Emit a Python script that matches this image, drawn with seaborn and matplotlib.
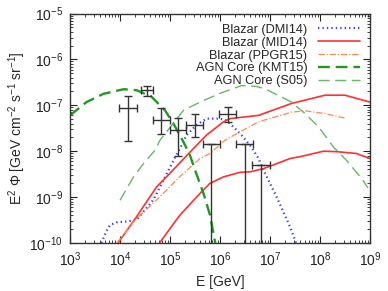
import numpy as np
import matplotlib
matplotlib.use("Agg")
import matplotlib.pyplot as plt
import seaborn as sns

# ---------- data (log10 E [GeV], log10 E^2 Phi) ----------
dmi14_logE = [3.63, 3.72, 3.80, 3.96, 4.06, 4.33, 4.66, 4.80, 5.07, 5.20, 5.33, 5.53,
              5.73, 6.00, 6.13, 6.23, 6.43, 6.63, 6.77, 6.90, 7.13, 7.37, 7.50, 7.53]
dmi14_logF = [-10.0, -9.76, -9.61, -9.54, -9.54, -9.50, -9.07, -8.78, -8.20, -7.94, -7.65, -7.43,
              -7.29, -7.29, -7.33, -7.43, -7.65, -7.91, -8.16, -8.48, -8.99, -9.57, -9.93, -10.05]

mid14_hi_logE = [3.96, 4.33, 4.73, 5.00, 5.40, 5.73, 6.07, 6.20, 6.77, 7.43, 8.10, 8.50, 9.00]
mid14_hi_logF = [-10.0, -9.43, -8.78, -8.48, -8.02, -7.65, -7.36, -7.29, -7.22, -6.96, -6.78, -6.78, -6.93]

mid14_lo_logE = [4.79, 5.20, 5.60, 5.80, 6.07, 6.40, 6.60, 6.87, 7.40, 7.60, 8.07, 8.33, 8.73, 9.00]
mid14_lo_logF = [-10.0, -9.39, -8.92, -8.70, -8.56, -8.46, -8.45, -8.38, -8.16, -8.12, -8.00, -8.01, -8.05, -8.16]

ppgr15_logE = [3.94, 4.30, 4.60, 4.93, 5.20, 5.60, 5.80, 6.10, 6.33, 6.77, 7.43, 7.70, 8.10, 8.50]
ppgr15_logF = [-10.0, -9.50, -9.20, -8.85, -8.55, -8.16, -8.05, -7.76, -7.62, -7.36, -7.15, -7.12, -7.18, -7.28]

kmt15_logE = [3.00, 3.33, 3.67, 4.07, 4.33, 4.50, 4.60, 4.80, 4.90, 5.07, 5.27, 5.40,
              5.50, 5.67, 5.80, 5.90, 5.93]
kmt15_logF = [-7.22, -6.93, -6.75, -6.65, -6.67, -6.75, -6.78, -7.00, -7.11, -7.40, -7.80, -8.09,
              -8.41, -8.92, -9.39, -9.97, -10.1]

s05_logE = [4.00, 4.27, 4.47, 4.70, 4.80, 5.27, 5.60, 6.00, 6.43, 6.73, 6.90, 7.43,
            7.70, 7.97, 8.27, 8.53, 8.83, 8.96]
s05_logF = [-9.07, -8.56, -8.27, -7.98, -7.76, -7.11, -6.93, -6.74, -6.57, -6.59, -6.64, -6.93,
            -7.18, -7.47, -7.91, -8.20, -8.59, -8.80]

# measured points: centre, x range, y range (log10)
pt_logE = [4.17, 4.55, 4.83, 5.17, 5.50, 6.17, 5.83, 6.50, 6.82]
pt_logE_lo = [3.99, 4.43, 4.67, 5.01, 5.33, 5.99, 5.67, 6.32, 6.65]
pt_logE_hi = [4.34, 4.67, 5.00, 5.32, 5.67, 6.33, 6.00, 6.67, 7.01]
pt_logF = [-7.06, -6.67, -7.31, -7.53, -7.42, -7.20, -7.85, -7.85, -8.29]
pt_logF_lo = [-7.78, -6.80, -7.63, -8.11, -7.69, -7.36, -12.0, -12.0, -12.0]
pt_logF_hi = [-6.80, -6.57, -7.06, -7.28, -7.18, -7.04, -7.85, -7.85, -8.29]

x_ticks = [1e3, 1e4, 1e5, 1e6, 1e7, 1e8, 1e9]
y_ticks = [1e-10, 1e-9, 1e-8, 1e-7, 1e-6, 1e-5]

sns.set_style("ticks")
plt.rcParams['font.family'] = ['Liberation Sans', 'DejaVu Sans']
plt.rcParams['mathtext.fontset'] = 'custom'
plt.rcParams['mathtext.rm'] = 'Liberation Sans'
plt.rcParams['mathtext.it'] = 'Liberation Sans:italic'

fig, ax = plt.subplots(figsize=(3.88, 2.91), dpi=100)
fig.subplots_adjust(left=0.1804, right=0.9536, top=0.9536, bottom=0.165)

p = lambda v: np.power(10.0, np.array(v))

curves = [
    (dmi14_logE, dmi14_logF, "Blazar (DMI14)", dict(color="#3040ff", lw=1.6, ls=(0, (0.6, 1.4)))),
    (mid14_hi_logE, mid14_hi_logF, "Blazar (MID14)", dict(color="#ff3030", lw=1.2, ls="-")),
    (ppgr15_logE, ppgr15_logF, "Blazar (PPGR15)", dict(color="#ff8a50", lw=0.9, ls=(0, (5, 1.5, 1, 1.5)))),
    (kmt15_logE, kmt15_logF, "AGN Core (KMT15)", dict(color="#1f9a1f", lw=1.7, ls=(0, (5, 2.5)))),
    (s05_logE, s05_logF, "AGN Core (S05)", dict(color="#66b866", lw=1.0, ls=(0, (8, 4)))),
]
for xs, ys, lab, st in curves:
    sns.lineplot(x=p(xs), y=p(ys), ax=ax, sort=False, estimator=None, label=lab, **st)
    if lab == "Blazar (MID14)":
        sns.lineplot(x=p(mid14_lo_logE), y=p(mid14_lo_logF), ax=ax, sort=False,
                     estimator=None, **st)

xc, yc = p(pt_logE), p(pt_logF)
xerr = [xc - p(pt_logE_lo), p(pt_logE_hi) - xc]
yerr = [yc - p(pt_logF_lo), p(pt_logF_hi) - yc]
ax.errorbar(xc, yc, xerr=xerr, yerr=yerr, fmt="none", ecolor="#333333",
            elinewidth=1.0, capsize=3, capthick=1.0, zorder=5)

ax.set_xscale("log")
ax.set_yscale("log")
ax.set_xlim(1e3, 1e9)
ax.set_ylim(1e-10, 1e-5)
ax.set_xticks(x_ticks)
ax.set_yticks(y_ticks)
ax.tick_params(which="both", direction="in", top=True, right=True, labelsize=10,
               colors="#222222", pad=5)
ax.tick_params(which="major", length=5, width=0.8)
ax.tick_params(which="minor", length=2.5, width=0.6)
for s in ax.spines.values():
    s.set_linewidth(1.0)
    s.set_color("#333333")

ax.set_xlabel("E [GeV]", fontsize=10, labelpad=5)
ax.set_ylabel(r"E$^2$ $\Phi$ [GeV cm$^{-2}$ s$^{-1}$ sr$^{-1}$]", fontsize=10, labelpad=1)

ax.legend(loc="upper right", frameon=False, markerfirst=False, fontsize=9.2,
          handlelength=3.3, handletextpad=0.8, labelspacing=0.07,
          borderaxespad=0.5, borderpad=0.3)

plt.savefig("out.png", dpi=100)
plt.close()
